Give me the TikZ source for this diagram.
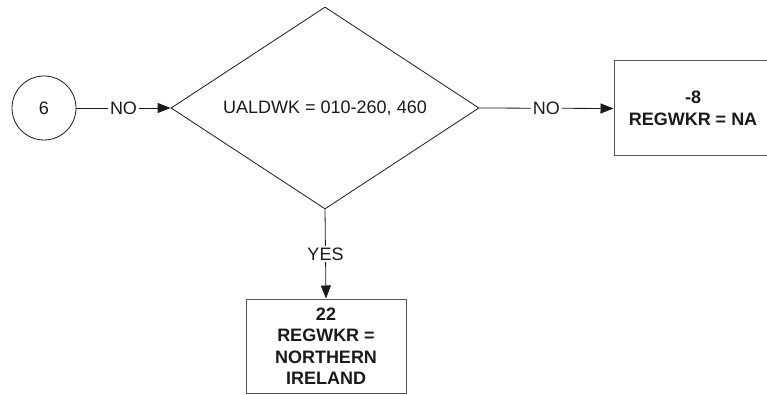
\documentclass[tikz,border=0pt]{standalone}
\usepackage{fontspec}
\setmainfont{Liberation Sans}
\usetikzlibrary{arrows.meta,shapes.geometric}
\definecolor{ink}{HTML}{1A1A1A}
\definecolor{edgegray}{HTML}{555555}

\begin{document}
\begin{tikzpicture}[x=1pt,y=-1pt,>={Triangle[length=13pt,width=10pt]},
every node/.style={font=\fontsize{18}{21.5}\selectfont,text=ink},
connector/.style={draw=ink,line width=0.8pt,->},
flowlabel/.style={fill=white,inner sep=2pt},
startcircle/.style={circle,draw=ink,line width=0.8pt,minimum size=64pt,inner sep=0pt},
decision/.style={diamond,aspect=1.525,draw=ink,line width=0.8pt,minimum width=308pt,minimum height=202pt,inner sep=0pt},
resultbox/.style={rectangle,draw=edgegray,line width=1pt,align=center,inner sep=2pt,font=\fontsize{18}{21.5}\selectfont\bfseries}]
\useasboundingbox (0,0) rectangle (767,395);
\node[startcircle] (start) at (44,108) {6};
\node[decision] (check) at (325,108) {UALDWK = 010-260, 460};
\node[resultbox,minimum width=158pt,minimum height=95pt] (na) at (693,108.5) {-8\\REGWKR = NA};
\node[resultbox,minimum width=160pt,minimum height=94pt] (ni) at (326,346) {22\\REGWKR =\\NORTHERN\\IRELAND};
\draw[connector] (start) -- node[flowlabel] {NO} (check.west);
\draw[connector] (check.east) -- node[flowlabel] {NO} (na.west);
\draw[connector] (check.south) -- node[flowlabel] {YES} (ni.north);
\end{tikzpicture}
\end{document}
